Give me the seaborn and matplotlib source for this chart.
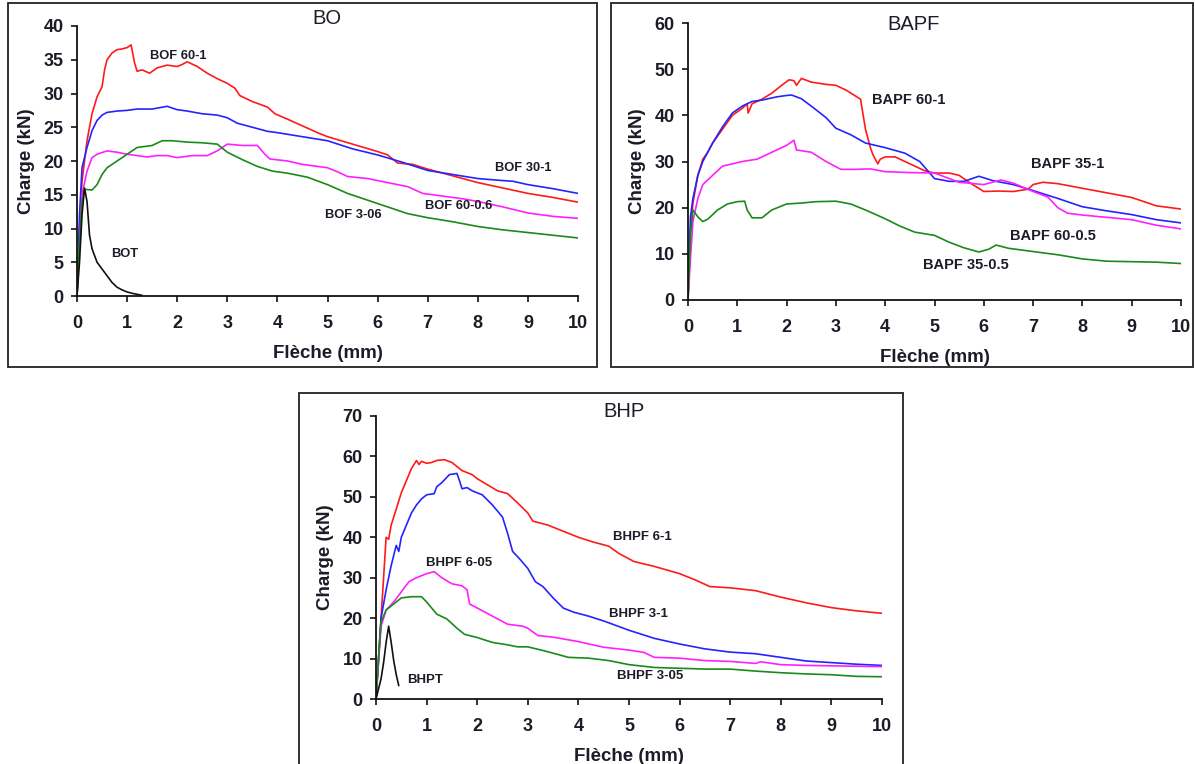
import numpy as np
import pandas as pd
import matplotlib
matplotlib.use("Agg")
import matplotlib.pyplot as plt
from matplotlib.patches import Rectangle
import seaborn as sns

# ---------------- BO panel ----------------
bo_60_1_x = [0, 0.05, 0.1, 0.2, 0.3, 0.4, 0.5, 0.55, 0.6, 0.7, 0.8, 0.9, 1.0, 1.08, 1.15, 1.2, 1.3, 1.45,
             1.6, 1.8, 2.0, 2.1, 2.2, 2.4, 2.6, 2.8, 3.0, 3.15, 3.25, 3.5, 3.8, 3.95, 4.2, 4.5, 4.8, 5.0,
             5.5, 6.0, 6.2, 6.4, 6.7, 7.0, 7.5, 8.0, 8.5, 9.0, 9.5, 10]
bo_60_1_y = [0, 10, 17, 23, 27, 29.5, 31, 33.5, 35, 36, 36.5, 36.6, 36.8, 37.2, 34.5, 33.3, 33.5, 33,
             33.8, 34.2, 34.0, 34.3, 34.7, 34.0, 33, 32.2, 31.5, 30.8, 29.7, 28.8, 28, 27, 26.2, 25.2, 24.2, 23.6,
             22.5, 21.4, 20.9, 19.7, 19.5, 18.8, 17.8, 16.8, 16.0, 15.2, 14.6, 13.9]

bo_30_1_x = [0, 0.05, 0.1, 0.2, 0.3, 0.4, 0.5, 0.6, 0.8, 1.0, 1.2, 1.5, 1.8, 2.0, 2.2, 2.5, 2.8, 3.0,
             3.2, 3.5, 3.8, 4.0, 4.5, 5.0, 5.5, 6.0, 6.5, 7.0, 7.5, 8.0, 8.5, 8.7, 9.0, 9.5, 10]
bo_30_1_y = [0, 12, 19, 22, 24.5, 26, 26.8, 27.2, 27.4, 27.5, 27.7, 27.7, 28.1, 27.6, 27.4, 27.0, 26.8, 26.4,
             25.6, 25.0, 24.4, 24.2, 23.6, 23.0, 21.8, 20.9, 19.8, 18.6, 18.0, 17.4, 17.1, 17.0, 16.5, 15.9, 15.2]

bo_60_06_x = [0, 0.1, 0.2, 0.3, 0.4, 0.6, 0.8, 1.0, 1.2, 1.4, 1.6, 1.8, 2.0, 2.3, 2.6, 2.8, 3.0, 3.3,
              3.6, 3.75, 3.85, 4.2, 4.5, 5.0, 5.2, 5.4, 5.8, 6.2, 6.6, 6.9, 7.2, 7.7, 8.0, 8.5, 9.0, 9.5, 10]
bo_60_06_y = [0, 15, 18.5, 20.5, 21, 21.5, 21.3, 21, 20.8, 20.6, 20.8, 20.8, 20.5, 20.8, 20.8, 21.5, 22.5, 22.3,
              22.3, 21, 20.3, 20.0, 19.5, 19.0, 18.4, 17.7, 17.4, 16.8, 16.2, 15.2, 14.9, 14.4, 14.0, 13.2, 12.3, 11.8, 11.5]

bo_3_06_x = [0, 0.05, 0.1, 0.15, 0.3, 0.4, 0.5, 0.6, 0.8, 1.0, 1.2, 1.5, 1.7, 1.9, 2.2, 2.5, 2.8, 3.0,
             3.3, 3.6, 3.9, 4.2, 4.6, 5.0, 5.4, 5.8, 6.2, 6.6, 7.0, 7.5, 8.0, 8.5, 9.0, 9.5, 10]
bo_3_06_y = [0, 8, 14, 15.8, 15.7, 16.5, 18, 19, 20, 21, 22, 22.3, 23, 23.0, 22.8, 22.7, 22.5, 21.3,
             20.2, 19.2, 18.5, 18.2, 17.6, 16.5, 15.2, 14.2, 13.2, 12.2, 11.6, 11.0, 10.3, 9.8, 9.4, 9.0, 8.6]

bot_x = [0, 0.05, 0.1, 0.15, 0.2, 0.25, 0.3, 0.4, 0.5, 0.6, 0.7, 0.8, 0.9, 1.0, 1.1, 1.2, 1.3]
bot_y = [0, 5, 12, 16, 14, 9, 7, 5, 4, 3, 2, 1.3, 0.9, 0.6, 0.4, 0.25, 0.1]

# ---------------- BAPF panel ----------------
bapf_60_1_x = [0, 0.05, 0.1, 0.2, 0.3, 0.4, 0.5, 0.7, 0.9, 1.1, 1.2, 1.22, 1.3, 1.5, 1.7, 1.9, 2.05, 2.15,
               2.2, 2.3, 2.5, 2.8, 3.0, 3.2, 3.5, 3.6, 3.7, 3.75, 3.85, 3.9, 4.0, 4.2, 4.5, 4.8, 5.0, 5.3,
               5.5, 5.7, 6.0, 6.3, 6.6, 6.9, 7.0, 7.2, 7.5, 8.0, 8.5, 9.0, 9.5, 10]
bapf_60_1_y = [0, 15, 21, 27, 30.5, 32, 34, 37, 40, 41.5, 42.5, 40.5, 42.5, 43.5, 44.8, 46.5, 47.7, 47.5,
               46.5, 48, 47.2, 46.7, 46.5, 45.5, 43.5, 37, 33, 31.5, 29.5, 30.5, 31, 31, 29.5, 28, 27.5, 27.5,
               27, 25.5, 23.5, 23.6, 23.5, 24, 25, 25.5, 25.2, 24.2, 23.2, 22.2, 20.4, 19.7]

bapf_35_1_x = [0, 0.05, 0.1, 0.2, 0.3, 0.5, 0.7, 0.9, 1.1, 1.3, 1.5, 1.8, 2.0, 2.1, 2.3, 2.5, 2.8, 3.0,
               3.3, 3.6, 4.0, 4.4, 4.7, 5.0, 5.3, 5.6, 5.9, 6.2, 6.6, 7.0, 7.5, 8.0, 8.5, 9.0, 9.5, 10]
bapf_35_1_y = [0, 18, 22, 27, 30, 34, 37.5, 40.5, 42, 43, 43.3, 44, 44.3, 44.4, 43.6, 42, 39.5, 37.2,
               35.8, 34, 33, 31.8, 30, 26.3, 25.7, 25.7, 26.8, 25.8, 25, 23.7, 22, 20.2, 19.3, 18.5, 17.4, 16.7]

bapf_60_05_x = [0, 0.05, 0.1, 0.2, 0.3, 0.5, 0.7, 0.9, 1.1, 1.4, 1.7, 2.0, 2.15, 2.2, 2.5, 2.8, 3.1, 3.4,
                3.7, 4.0, 4.5, 5.0, 5.5, 6.0, 6.35, 6.6, 7.0, 7.3, 7.5, 7.7, 8.0, 8.5, 9.0, 9.5, 10]
bapf_60_05_y = [0, 9, 17, 22, 25, 27, 29, 29.5, 30, 30.5, 32, 33.5, 34.6, 32.5, 32, 30, 28.3, 28.3,
                28.4, 27.8, 27.6, 27.5, 25.5, 25, 26, 25.3, 23.5, 22.3, 20, 18.8, 18.4, 17.9, 17.4, 16.2, 15.4]

bapf_35_05_x = [0, 0.05, 0.1, 0.2, 0.3, 0.4, 0.6, 0.8, 1.0, 1.15, 1.2, 1.3, 1.5, 1.7, 2.0, 2.3, 2.6, 3.0,
                3.3, 3.6, 4.0, 4.3, 4.6, 5.0, 5.3, 5.6, 5.9, 6.1, 6.25, 6.5, 7.0, 7.5, 8.0, 8.5, 9.0, 9.5, 10]
bapf_35_05_y = [0, 14, 19.5, 18, 17, 17.5, 19.5, 20.8, 21.3, 21.4, 19.5, 17.8, 17.8, 19.5, 20.8, 21.0, 21.3, 21.4,
                20.8, 19.5, 17.6, 16.0, 14.7, 14.0, 12.5, 11.3, 10.4, 11, 11.9, 11.2, 10.5, 9.8, 8.9, 8.4, 8.3, 8.2, 7.9]

# ---------------- BHP panel ----------------
bhpf_6_1_x = [0, 0.1, 0.2, 0.25, 0.3, 0.4, 0.5, 0.6, 0.7, 0.8, 0.85, 0.9, 1.0, 1.1, 1.2, 1.35, 1.5, 1.7,
              1.9, 2.0, 2.2, 2.4, 2.6, 2.8, 3.0, 3.1, 3.4, 3.7, 4.0, 4.3, 4.6, 4.8, 5.1, 5.5, 6.0, 6.3,
              6.6, 7.0, 7.5, 8.0, 8.5, 9.0, 9.5, 10]
bhpf_6_1_y = [0, 20, 40, 39.5, 43, 47, 51, 54, 57, 59, 58, 58.8, 58.3, 58.5, 59, 59.2, 58.5, 56.5,
              55.5, 54.5, 53, 51.5, 50.8, 48.5, 46, 44, 43, 41.5, 40, 38.8, 37.8, 36, 34, 32.8, 31, 29.5,
              27.8, 27.5, 26.8, 25.2, 23.8, 22.6, 21.8, 21.2]

bhpf_3_1_x = [0, 0.05, 0.1, 0.2, 0.3, 0.4, 0.45, 0.5, 0.6, 0.7, 0.8, 0.9, 1.0, 1.15, 1.2, 1.3, 1.45, 1.6,
              1.65, 1.7, 1.8, 1.9, 2.1, 2.3, 2.5, 2.6, 2.7, 2.85, 3.0, 3.15, 3.3, 3.5, 3.7, 3.9, 4.2, 4.5,
              5.0, 5.5, 6.0, 6.5, 7.0, 7.5, 8.0, 8.5, 9.0, 9.5, 10]
bhpf_3_1_y = [0, 10, 20, 27, 33, 38, 36.5, 40, 43, 46, 48, 49.5, 50.5, 50.8, 52.5, 53.5, 55.5, 55.8,
              54, 52, 52.3, 51.5, 50.5, 48, 45, 41, 36.5, 34.5, 32.3, 29, 27.8, 25, 22.5, 21.5, 20.5, 19.3,
              17, 15, 13.6, 12.4, 11.6, 11.2, 10.3, 9.4, 9.0, 8.6, 8.3]

bhpf_6_05_x = [0, 0.1, 0.2, 0.35, 0.5, 0.65, 0.8, 1.0, 1.15, 1.3, 1.5, 1.7, 1.8, 1.85, 2.0, 2.3, 2.6, 2.9,
               3.0, 3.2, 3.5, 4.0, 4.5, 5.0, 5.3, 5.5, 6.0, 6.5, 7.0, 7.5, 7.6, 8.0, 8.5, 9.0, 9.5, 10]
bhpf_6_05_y = [0, 18, 22, 24, 26.5, 29, 30, 31, 31.5, 30, 28.5, 28, 27, 23.5, 22.5, 20.5, 18.5, 18,
               17.5, 15.7, 15.3, 14.2, 12.8, 12.1, 11.5, 10.3, 10.1, 9.5, 9.3, 8.8, 9.2, 8.5, 8.3, 8.2, 8.1, 8.0]

bhpf_3_05_x = [0, 0.05, 0.1, 0.2, 0.35, 0.5, 0.7, 0.9, 1.0, 1.2, 1.4, 1.6, 1.75, 2.0, 2.3, 2.6, 2.8, 3.0,
               3.3, 3.6, 3.8, 4.2, 4.6, 5.0, 5.5, 6.0, 6.5, 7.0, 7.5, 8.0, 8.5, 9.0, 9.5, 10]
bhpf_3_05_y = [0, 10, 19, 22, 23.5, 25, 25.3, 25.3, 24, 21, 19.8, 17.5, 16, 15.2, 14, 13.4, 12.9, 12.9,
               12, 11, 10.3, 10.1, 9.5, 8.5, 7.8, 7.6, 7.4, 7.4, 6.9, 6.5, 6.2, 6.0, 5.6, 5.5]

bhpt_x = [0, 0.1, 0.15, 0.2, 0.25, 0.3, 0.35, 0.4, 0.45]
bhpt_y = [0, 5, 9, 14, 18, 14, 9.5, 6, 3.3]

RED, BLUE, MAGENTA, GREEN, BLACK = "#ff1a1a", "#2424ff", "#ff20ff", "#1a8a1a", "#111111"
INK = "#1c1c28"

panels = [
    dict(title="BO", title_xy=(4.98, 41.1), ymax=40, ystep=5, label_size=9.3,
         rect_px=(77, 26, 578, 296), frame_px=(8, 3, 597, 367),
         series=[(bo_60_1_x, bo_60_1_y, RED), (bo_30_1_x, bo_30_1_y, BLUE),
                 (bo_60_06_x, bo_60_06_y, MAGENTA), (bo_3_06_x, bo_3_06_y, GREEN),
                 (bot_x, bot_y, BLACK)],
         labels=[("BOF 60-1", 1.45, 35.6), ("BOF 30-1", 8.35, 18.9), ("BOF 60-0.6", 6.95, 13.3),
                 ("BOF 3-06", 4.96, 12.0), ("BOT", 0.69, 6.2)]),
    dict(title="BAPF", title_xy=(4.57, 59.6), ymax=60, ystep=10, label_size=10.5,
         rect_px=(688, 23, 1181, 300), frame_px=(611, 3, 1193, 367),
         series=[(bapf_60_1_x, bapf_60_1_y, RED), (bapf_35_1_x, bapf_35_1_y, BLUE),
                 (bapf_60_05_x, bapf_60_05_y, MAGENTA), (bapf_35_05_x, bapf_35_05_y, GREEN)],
         labels=[("BAPF 60-1", 3.73, 43.4), ("BAPF 35-1", 6.95, 29.5), ("BAPF 60-0.5", 6.53, 13.9),
                 ("BAPF 35-0.5", 4.77, 7.6)]),
    dict(title="BHP", title_xy=(4.9, 71.0), ymax=70, ystep=10, label_size=9.5,
         rect_px=(376, 416, 882, 699), frame_px=(299, 393, 903, 766),
         series=[(bhpf_6_1_x, bhpf_6_1_y, RED), (bhpf_3_1_x, bhpf_3_1_y, BLUE),
                 (bhpf_6_05_x, bhpf_6_05_y, MAGENTA), (bhpf_3_05_x, bhpf_3_05_y, GREEN),
                 (bhpt_x, bhpt_y, BLACK)],
         labels=[("BHPF 6-1", 4.69, 40.0), ("BHPF 6-05", 0.98, 33.7), ("BHPF 3-1", 4.6, 21.0),
                 ("BHPF 3-05", 4.77, 5.8), ("BHPT", 0.61, 4.6)]),
]

sns.set_style("ticks")
plt.rcParams["font.family"] = ["Liberation Sans", "DejaVu Sans"]

W, H = 1195, 764
fig = plt.figure(figsize=(W / 100, H / 100), dpi=100)

for p in panels:
    fx0, fy0, fx1, fy1 = p["frame_px"]
    fig.patches.append(Rectangle((fx0 / W, 1 - fy1 / H), (fx1 - fx0) / W, (fy1 - fy0) / H,
                                 transform=fig.transFigure, fill=False, edgecolor="#222222",
                                 linewidth=1.3, zorder=0))
    x0, y0, x1, y1 = p["rect_px"]
    ax = fig.add_axes([x0 / W, 1 - y1 / H, (x1 - x0) / W, (y1 - y0) / H])
    for xs, ys, col in p["series"]:
        sns.lineplot(x=np.asarray(xs), y=np.asarray(ys), ax=ax, color=col, linewidth=1.2,
                     sort=False, estimator=None)
    ax.set_xlim(0, 10)
    ax.set_ylim(0, p["ymax"])
    ax.set_xticks(range(0, 11))
    ax.set_yticks(np.arange(0, p["ymax"] + 1, p["ystep"]))
    ax.tick_params(direction="out", length=4.3, width=1.2, labelsize=13, colors="#111111",
                   labelcolor=INK)
    ax.tick_params(axis="x", pad=9.5)
    ax.tick_params(axis="y", pad=5.2)
    for lab in ax.get_xticklabels() + ax.get_yticklabels():
        lab.set_fontweight("bold")
    for side in ("top", "right"):
        ax.spines[side].set_visible(False)
    for side in ("left", "bottom"):
        ax.spines[side].set_linewidth(1.3)
        ax.spines[side].set_color("#111111")
    ax.set_xlabel("Flèche (mm)", fontsize=13.5, fontweight="bold", labelpad=9, color=INK)
    ax.set_ylabel("Charge (kN)", fontsize=13.5, fontweight="bold", labelpad=6, color=INK)
    ax.text(*p["title_xy"], p["title"], fontsize=14.5, ha="center", va="center",
            clip_on=False, color=INK)
    for txt, lx, ly in p["labels"]:
        ax.text(lx, ly, txt, fontsize=p["label_size"], fontweight="bold", ha="left", va="center",
                color=INK)

fig.savefig("out.png", dpi=100)
